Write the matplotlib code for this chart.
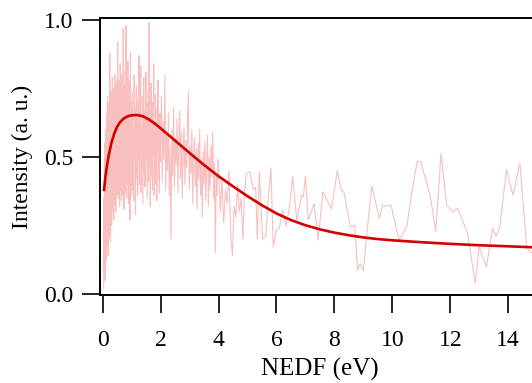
import numpy as np
import matplotlib
matplotlib.use("Agg")
import matplotlib.pyplot as plt

# measured NEDF (noisy), dense part at low energy on regular sub-grids
e_a = np.arange(120) * 0.008 + 0.04
i_a = [0.02, 0.35, 0.08, 0.48, 0.15, 0.55, 0.05, 0.42, 0.22, 0.60, 0.12, 0.50, 0.30, 0.66, 0.18, 0.45, 0.72, 0.25, 0.58, 0.14,
       0.62, 0.33, 0.70, 0.21, 0.55, 0.40, 0.88, 0.28, 0.64, 0.19, 0.52, 0.74, 0.36, 0.60, 0.25, 0.68, 0.45, 0.79, 0.30, 0.57,
       0.70, 0.38, 0.62, 0.27, 0.75, 0.48, 0.66, 0.33, 0.58, 0.80, 0.41, 0.69, 0.30, 0.61, 0.50, 0.77, 0.36, 0.64, 0.44, 0.72,
       0.92, 0.40, 0.68, 0.35, 0.60, 0.78, 0.46, 0.70, 0.32, 0.65, 0.52, 0.84, 0.38, 0.62, 0.47, 0.74, 0.34, 0.66, 0.55, 0.80,
       0.42, 0.71, 0.36, 0.63, 0.97, 0.45, 0.68, 0.31, 0.58, 0.76, 0.48, 0.64, 0.37, 0.82, 0.50, 0.69, 0.98, 0.43, 0.61, 0.35,
       0.73, 0.52, 0.66, 0.40, 0.85, 0.47, 0.62, 0.33, 0.71, 0.55, 0.78, 0.39, 0.64, 0.27, 0.60, 0.88, 0.45, 0.70, 0.36, 0.58]

e_b = np.arange(67) * 0.015 + 1.0
i_b = [0.66, 0.38, 0.74, 0.45, 0.60, 0.34, 0.80, 0.50, 0.68, 0.29, 0.57, 0.76, 0.42, 0.63, 0.36, 0.71, 0.48, 0.87, 0.40, 0.65,
       0.52, 0.83, 0.37, 0.61, 0.46, 0.72, 0.33, 0.58, 0.79, 0.44, 0.67, 0.39, 0.62, 0.81, 0.49, 0.70, 0.35, 0.56, 0.74, 0.41,
       0.99, 0.47, 0.66, 0.32, 0.60, 0.77, 0.43, 0.64, 0.38, 0.70, 0.51, 0.84, 0.36, 0.59, 0.45, 0.73, 0.40, 0.62, 0.34, 0.68,
       0.53, 0.78, 0.42, 0.57, 0.37, 0.66, 0.48]

e_c = np.arange(67) * 0.03 + 2.0
i_c = [0.55, 0.72, 0.41, 0.63, 0.49, 0.80, 0.38, 0.58, 0.45, 0.66,
       0.36, 0.54, 0.20, 0.60, 0.43, 0.68, 0.39, 0.57, 0.47, 0.64,
       0.37, 0.55, 0.67, 0.42, 0.59, 0.35, 0.52, 0.61, 0.40, 0.56,
       0.46, 0.63, 0.74, 0.38, 0.54, 0.44, 0.60, 0.33, 0.50, 0.57,
       0.39, 0.53, 0.31, 0.55, 0.42, 0.60, 0.36, 0.49, 0.28, 0.52,
       0.40, 0.56, 0.34, 0.47, 0.58, 0.32, 0.50, 0.38, 0.54, 0.43,
       0.59, 0.35, 0.48, 0.15, 0.44, 0.36, 0.49]

e_d = np.arange(17) * 0.06 + 4.0
i_d = [0.49, 0.30, 0.42, 0.26, 0.38, 0.33, 0.45, 0.22, 0.14, 0.32, 0.28, 0.40, 0.30, 0.35, 0.20, 0.37, 0.44]

# sparse part above 5 eV
e_s = [5.09, 5.2, 5.28, 5.34, 5.41, 5.52, 5.63, 5.72, 5.81, 5.89, 6.0, 6.1, 6.21, 6.33, 6.44, 6.56, 6.7, 6.87, 6.93,
       7.0, 7.1, 7.3, 7.44, 7.6, 7.69, 7.9, 8.1, 8.24, 8.33, 8.55, 8.7, 8.8, 8.9, 9.0, 9.1, 9.29, 9.55, 9.67, 9.78,
       9.95, 10.23, 10.5, 10.7, 10.86, 10.98, 11.16, 11.33, 11.5, 11.68, 11.87, 12.08, 12.25, 12.6, 12.7, 12.86, 13.0,
       13.1, 13.25, 13.46, 13.58, 13.7, 13.94, 14.17, 14.4, 14.64, 14.8]
i_s = [0.446, 0.38, 0.39, 0.20, 0.446, 0.20, 0.21, 0.355, 0.46, 0.173, 0.234, 0.24, 0.307, 0.248, 0.31, 0.43, 0.27,
       0.36, 0.355, 0.43, 0.27, 0.33, 0.197, 0.373, 0.355, 0.31, 0.45, 0.38, 0.37, 0.246, 0.25, 0.088, 0.11, 0.085,
       0.20, 0.394, 0.277, 0.325, 0.32, 0.325, 0.197, 0.246, 0.39, 0.483, 0.483, 0.416, 0.343, 0.227, 0.514, 0.325,
       0.30, 0.313, 0.222, 0.15, 0.04, 0.173, 0.14, 0.10, 0.24, 0.21, 0.24, 0.453, 0.36, 0.478, 0.168, 0.15]

# fitted curve, sampled
e_fit = [0.05, 0.1, 0.15, 0.2, 0.3, 0.4, 0.5, 0.6, 0.7, 0.8, 0.9, 1.0, 1.1, 1.2, 1.3, 1.4, 1.6, 1.8, 2.0, 2.5,
         3.0, 3.5, 4.0, 4.5, 5.0, 5.5, 6.0, 6.5, 7.0, 7.5, 8.0, 8.5, 9.0, 9.5, 10.0, 11.0, 12.0, 13.0, 14.0, 15.0]
i_fit = [0.38, 0.43, 0.468, 0.50, 0.55, 0.585, 0.61, 0.627, 0.638, 0.645, 0.65, 0.652, 0.653, 0.653, 0.651, 0.648,
         0.637, 0.622, 0.605, 0.56, 0.515, 0.471, 0.43, 0.393, 0.357, 0.324, 0.294, 0.27, 0.251, 0.236, 0.224,
         0.2145, 0.2065, 0.2005, 0.196, 0.189, 0.183, 0.178, 0.174, 0.170]

energy = np.concatenate([e_a, e_b, e_c, e_d, e_s])
intensity = np.concatenate([i_a, i_b, i_c, i_d, i_s])

plt.rcParams['font.family'] = ['Liberation Serif', 'DejaVu Serif']

fig = plt.figure(figsize=(5.32, 3.83), dpi=100)
ax = fig.add_axes([100 / 532, 88 / 383, 443 / 532, 277 / 383])

ax.plot(energy, intensity, color='#f7b4b4', lw=0.8, alpha=0.85)
ax.plot(e_fit, i_fit, color='#d40000', lw=1.9)

ax.set_xlim(-0.09, 15.2)
ax.set_ylim(-0.0036, 1.0073)
ax.set_xticks(np.arange(0, 15, 2))
ax.set_yticks([0.0, 0.5, 1.0])
ax.yaxis.set_major_formatter(matplotlib.ticker.FormatStrFormatter('%.1f'))
ax.tick_params(direction='out', length=13, width=1.2, labelsize=17)
ax.tick_params(axis='x', pad=12)
ax.tick_params(axis='y', pad=6)
for s in ax.spines.values():
    s.set_linewidth(1.4)

ax.set_xlabel('NEDF (eV)', fontsize=18, va='center')
ax.set_ylabel('Intensity (a. u.)', fontsize=17, va='center')
ax.xaxis.set_label_coords((320 - 100) / 443, (295 - 369) / 277)
ax.yaxis.set_label_coords((22 - 100) / 443, (295 - 157) / 277)

fig.savefig('out.png', dpi=100)
